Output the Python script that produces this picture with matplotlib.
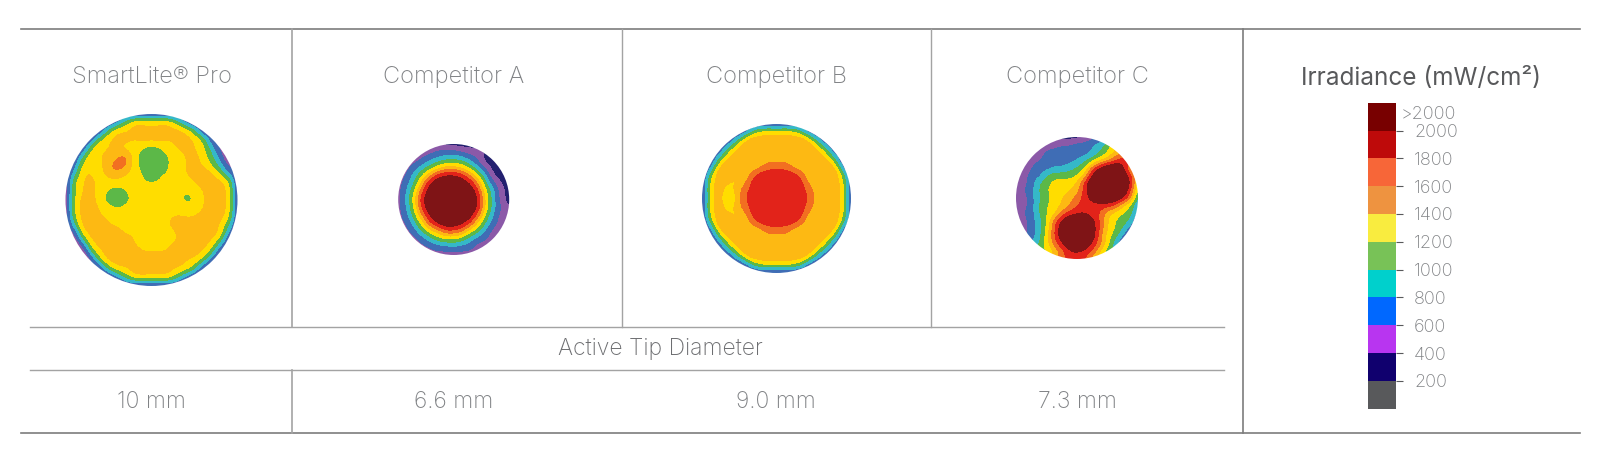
from matplotlib import pyplot as plt
from matplotlib.colors import ListedColormap, BoundaryNorm
from matplotlib.patches import Circle
import numpy as np

plt.rcParams['font.family'] = ['Inter', 'DejaVu Sans']

products = ['SmartLite® Pro', 'Competitor A', 'Competitor B', 'Competitor C']
tip_diameters = ['10 mm', '6.6 mm', '9.0 mm', '7.3 mm']
scale_ticks = [200, 400, 600, 800, 1000, 1200, 1400, 1600, 1800, 2000]
scale_edges = [0, 200, 400, 600, 800, 1000, 1200, 1400, 1600, 1800, 2000, 2200]
scale_colors = ['#58595b', '#10006e', '#b835f0', '#0068ff', '#00d0cc', '#78c257',
                '#f9ec3f', '#ee9340', '#f76638', '#be0a0a', '#780000']
map_colors = ['#58595b', '#23206f', '#8b59a8', '#3f6db5', '#35b8c8', '#5cb848',
              '#ffdd00', '#fdb913', '#f26f21', '#e2231a', '#7f1416']

smartlite = [
    [5]*21,
    [5,5,5,5,5,5,7,11,14,14,14,14,14,11,7,5,5,5,5,5,5],
    [5,5,5,5,5,11,14,14,15,15,14,15,15,15,14,11,5,5,5,5,5],
    [5,5,5,6,12,14,15,15,14,15,15,15,14,15,15,14,12,6,5,5,5],
    [5,5,5,12,14,14,14,13,13,12,11,12,13,14,15,14,13,9,5,5,5],
    [5,5,10,14,14,14,16,17,13,11,10,11,12,13,14,15,13,11,7,3,5],
    [5,6,13,14,13,16,17,17,13,11,10,11,12,13,14,15,14,12,9,5,5],
    [4,9,14,14,13,15,16,14,13,12,11,12,12,13,14,15,15,15,12,8,5],
    [4,12,14,15,13,13,13,13,13,12,12,12,13,13,13,14,15,15,15,13,5],
    [4,12,14,15,13,12,11,12,13,13,13,13,13,13,12,13,14,15,15,14,5],
    [4,12,15,15,13,11,10,11,13,13,13,13,13,13,11,12,14,15,15,14,5],
    [4,12,15,15,14,13,12,13,13,13,13,13,13,14,13,13,14,15,15,14,5],
    [4,12,15,15,14,14,13,13,13,13,13,13,14,14,14,14,15,15,15,13,5],
    [4,9,15,15,15,14,14,13,13,13,13,13,14,15,15,15,15,15,14,10,5],
    [3,5,13,15,15,15,15,14,14,13,12,13,13,14,15,16,15,15,14,7,5],
    [3,3,8,14,15,15,16,15,14,13,13,13,14,14,15,16,15,14,10,5,5],
    [3,3,3,11,14,15,15,15,15,14,14,14,14,15,15,15,14,12,5,5,5],
    [5,3,3,5,12,15,15,15,16,15,15,15,15,15,14,14,12,6,5,5,5],
    [5,5,5,5,5,11,14,14,15,16,15,15,15,14,14,11,5,5,5,5,5],
    [5,5,5,5,5,5,7,11,14,14,14,14,14,11,7,5,5,5,5,5,5],
    [5]*21,
]
competitor_a = [
    [5,5,5,5,5,5,3,3,3,3,3,3,3,3,3],
    [5,5,5,5,5,6,7,7,6,5,5,4,3,3,3],
    [5,5,5,6,8,9,10,10,10,8,6,3,3,3,3],
    [5,5,7,9,11,13,15,15,14,12,9,6,3,3,3],
    [5,6,9,12,16,20,21,21,20,17,13,9,4,3,3],
    [5,7,10,15,21,22,22,22,22,21,17,11,7,4,3],
    [5,8,12,18,22,22,22,22,22,22,20,13,9,5,3],
    [5,8,13,20,22,22,22,22,22,22,21,14,9,5,3],
    [5,8,12,19,22,22,22,22,22,22,21,14,9,6,4],
    [5,7,11,16,21,22,22,22,22,22,18,12,8,5,5],
    [5,6,9,13,18,21,22,22,21,19,14,10,7,5,5],
    [5,5,7,10,13,15,18,18,17,13,11,8,5,5,5],
    [5,5,5,7,9,11,12,12,11,9,7,6,5,5,5],
    [5,5,5,5,6,7,7,8,7,7,5,5,5,5,5],
    [5,5,5,5,5,5,5,5,5,5,5,5,5,5,5],
]
competitor_b = [
    [5]*19,
    [5,5,5,5,5,6,10,13,13,13,13,13,10,6,5,5,5,5,5],
    [5,5,5,5,9,13,17,15,17,15,17,15,17,13,9,5,5,5,5],
    [5,5,5,10,13,17,15,15,13,15,13,15,15,17,13,10,5,5,5],
    [5,5,9,13,17,13,15,13,15,13,15,13,15,13,17,13,9,5,5],
    [5,6,13,17,13,15,13,15,17,17,17,15,13,15,13,17,13,6,5],
    [5,10,17,15,15,13,17,19,19,19,19,19,17,13,15,15,17,10,5],
    [5,13,15,15,13,15,19,19,19,19,19,19,19,15,13,15,15,13,5],
    [5,13,17,12,15,17,19,19,19,19,19,19,19,17,15,13,17,13,5],
    [5,13,15,12,13,18,19,19,19,19,19,19,19,18,13,15,15,13,5],
    [5,13,17,12,15,17,19,19,19,19,19,19,19,17,15,13,17,13,5],
    [5,13,15,15,13,15,19,19,19,19,19,19,19,15,13,15,15,13,5],
    [5,10,17,15,15,13,17,19,19,19,19,19,17,13,15,15,17,10,5],
    [5,6,13,17,13,15,13,15,17,17,17,15,13,15,13,17,13,6,5],
    [5,5,9,13,17,13,15,13,15,13,15,13,15,13,17,13,9,5,5],
    [5,5,5,10,13,17,15,15,13,15,13,15,15,17,13,10,5,5,5],
    [5,5,5,5,9,13,17,15,17,15,17,15,17,13,9,5,5,5,5],
    [5,5,5,5,5,6,10,13,13,13,13,13,10,6,5,5,5,5,5],
    [5]*19,
]
competitor_c = [
    [3,3,3,3,3,3,3,3,3,4,5,6,7,12,15,15,15],
    [3,3,3,3,4,5,6,6,7,7,8,9,11,14,16,16,16],
    [3,3,3,4,7,7,7,7,7,7,8,10,12,14,16,17,17],
    [3,4,5,6,7,7,7,7,8,9,11,13,15,18,19,19,19],
    [4,4,6,7,7,8,8,9,10,12,17,21,23,23,21,15,12],
    [5,5,7,7,10,11,11,11,12,14,21,23,23,23,23,19,13],
    [5,5,7,10,11,13,13,13,14,19,23,23,23,23,23,21,12],
    [5,6,7,10,12,13,13,14,15,19,23,23,23,23,23,19,11],
    [5,5,7,10,11,13,14,15,17,19,21,23,23,23,21,17,9],
    [5,5,7,10,12,13,14,16,18,19,19,19,19,18,14,12,7],
    [5,6,7,10,12,13,17,19,20,20,19,18,15,13,12,11,7],
    [5,5,7,9,12,17,21,23,23,23,21,18,14,12,11,10,5],
    [5,5,7,9,12,18,22,23,23,23,22,18,14,12,10,7,5],
    [5,5,7,9,13,18,22,23,23,23,22,17,13,11,8,5,5],
    [7,7,8,10,13,17,20,22,23,22,20,17,13,9,5,5,5],
    [9,9,9,11,12,14,17,20,20,20,18,14,11,9,7,5,5],
    [11,11,11,11,12,15,17,19,19,18,15,13,11,9,7,5,5],
]
disc_maps = [smartlite, competitor_a, competitor_b, competitor_c]

W, H = 1600, 462
fig = plt.figure(figsize=(W / 100, H / 100), dpi=100)
ax = fig.add_axes([0, 0, 1, 1])
ax.axis('off')

cmap = ListedColormap(map_colors)
norm = BoundaryNorm(scale_edges[:-1] + [3000], cmap.N)

# disc centre x, centre y, radius in pixels
disc_pos = [(151.5, 200, 86), (453.7, 199.5, 55.5), (776.5, 198.5, 74.5), (1077, 198, 61)]
for grid, (cx, cy, r) in zip(disc_maps, disc_pos):
    values = np.array(grid) * 100
    hw = r * len(grid) / (len(grid) - 1)
    im = ax.imshow(values, cmap=cmap, norm=norm, interpolation='bicubic',
                   interpolation_stage='data', aspect='auto',
                   extent=(cx - hw, cx + hw, cy + hw, cy - hw))
    circ = Circle((cx, cy), r, transform=ax.transData)
    im.set_clip_path(circ)

ax.set_xlim(0, W)
ax.set_ylim(H, 0)

# table lines
dark = '#7d7d7d'
light = '#a3a3a3'
ax.plot([20.5, 1580], [29, 29], color=dark, lw=1.2)
ax.plot([20.5, 1580], [433, 433], color=dark, lw=1.2)
ax.plot([30, 1224], [327, 327], color=light, lw=1)
ax.plot([30, 1224], [369.5, 369.5], color=light, lw=1)
ax.plot([292, 292], [29, 327], color=light, lw=1.2)
ax.plot([292, 292], [369.5, 433], color=light, lw=1.2)
ax.plot([622, 622], [29, 327], color=light, lw=1)
ax.plot([931, 931], [29, 327], color=light, lw=1)
ax.plot([1243, 1243], [29, 433], color=dark, lw=1.2)

text_col = '#808285'
xs = [151.5, 453.7, 776, 1077]
for x, name, tip in zip(xs, products, tip_diameters):
    ax.text(x, 76.5, name, ha='center', va='center', fontsize=17, color=text_col, fontweight='light')
    ax.text(x, 401.5, tip, ha='center', va='center', fontsize=16.5, color=text_col, fontweight='light')
ax.text(660.5, 349, 'Active Tip Diameter', ha='center', va='center', fontsize=16.5, color='#6d6e71', fontweight='light')
ax.text(1421, 78, 'Irradiance (mW/cm²)', ha='center', va='center', fontsize=17.5, color='#58595b')

# colour scale
bar_ax = fig.add_axes([1368 / W, 1 - 408.7 / H, 28 / W, 306 / H])
bar_ax.bar(0, np.diff(scale_edges), bottom=scale_edges[:-1], width=1, color=scale_colors)
bar_ax.set_xlim(-0.5, 0.5)
bar_ax.set_ylim(scale_edges[0], scale_edges[-1])
bar_ax.set_xticks([])
bar_ax.yaxis.tick_right()
bar_ax.set_yticks(scale_ticks)
bar_ax.tick_params(axis='y', length=5, width=0.8, color='#58595b', labelcolor=text_col, labelsize=13, pad=8)
for lab in bar_ax.get_yticklabels():
    lab.set_fontweight('light')
for s in bar_ax.spines.values():
    s.set_visible(False)
bar_ax.text(3.13, 2118, '>2000', transform=bar_ax.get_yaxis_transform(), ha='right', va='center',
            fontsize=13, color=text_col, fontweight='light')

fig.savefig('out.png', dpi=100)
